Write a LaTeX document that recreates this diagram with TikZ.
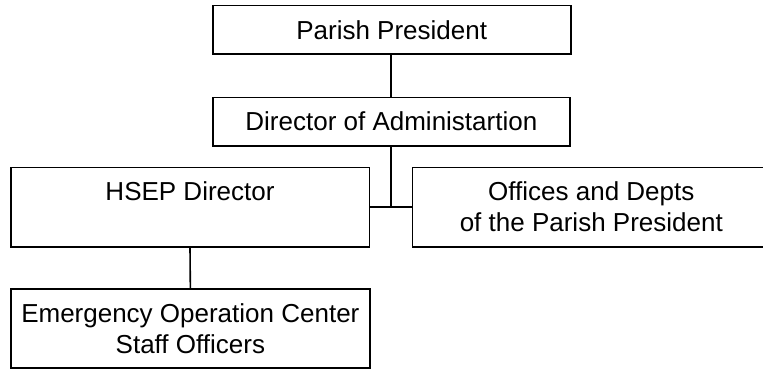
\documentclass[tikz,border=0pt]{standalone}
\usepackage{fontspec}
\setmainfont{Liberation Sans}
\begin{document}
\begin{tikzpicture}[x=1pt,y=-1pt,
  box/.style={draw=black, line width=1.6pt, rectangle, inner sep=0pt, align=center,
    font=\fontsize{26}{31}\selectfont},
  conn/.style={draw=black, line width=1.6pt}]
\useasboundingbox (0,0) rectangle (763,369);
\clip (0,0) rectangle (763,369);
\node[box, minimum width=358pt, minimum height=48.3pt] (pp) at (391.7,29.85) {Parish President};
\node[box, minimum width=357.3pt, minimum height=48.4pt] (da) at (391.35,121.5) {Director of Administartion};
\node[box, minimum width=358.6pt, minimum height=79.4pt] (hsep) at (190,207) {HSEP Director\\\mbox{}};
\node[box, minimum width=357.4pt, minimum height=79.4pt] (off) at (591.3,207) {Offices and Depts\\of the Parish President};
\node[box, minimum width=359.3pt, minimum height=78.6pt] (eoc) at (190.35,328.4) {Emergency Operation Center\\Staff Officers};
\coordinate (j) at (390.7,206.7);
\draw[conn] (pp.south -| j) -- (da.north -| j);
\draw[conn] (da.south -| j) -- (j);
\draw[conn] (hsep.east |- j) -- (off.west |- j);
\draw[conn] (hsep.south) -- (eoc.north);
\end{tikzpicture}
\end{document}
